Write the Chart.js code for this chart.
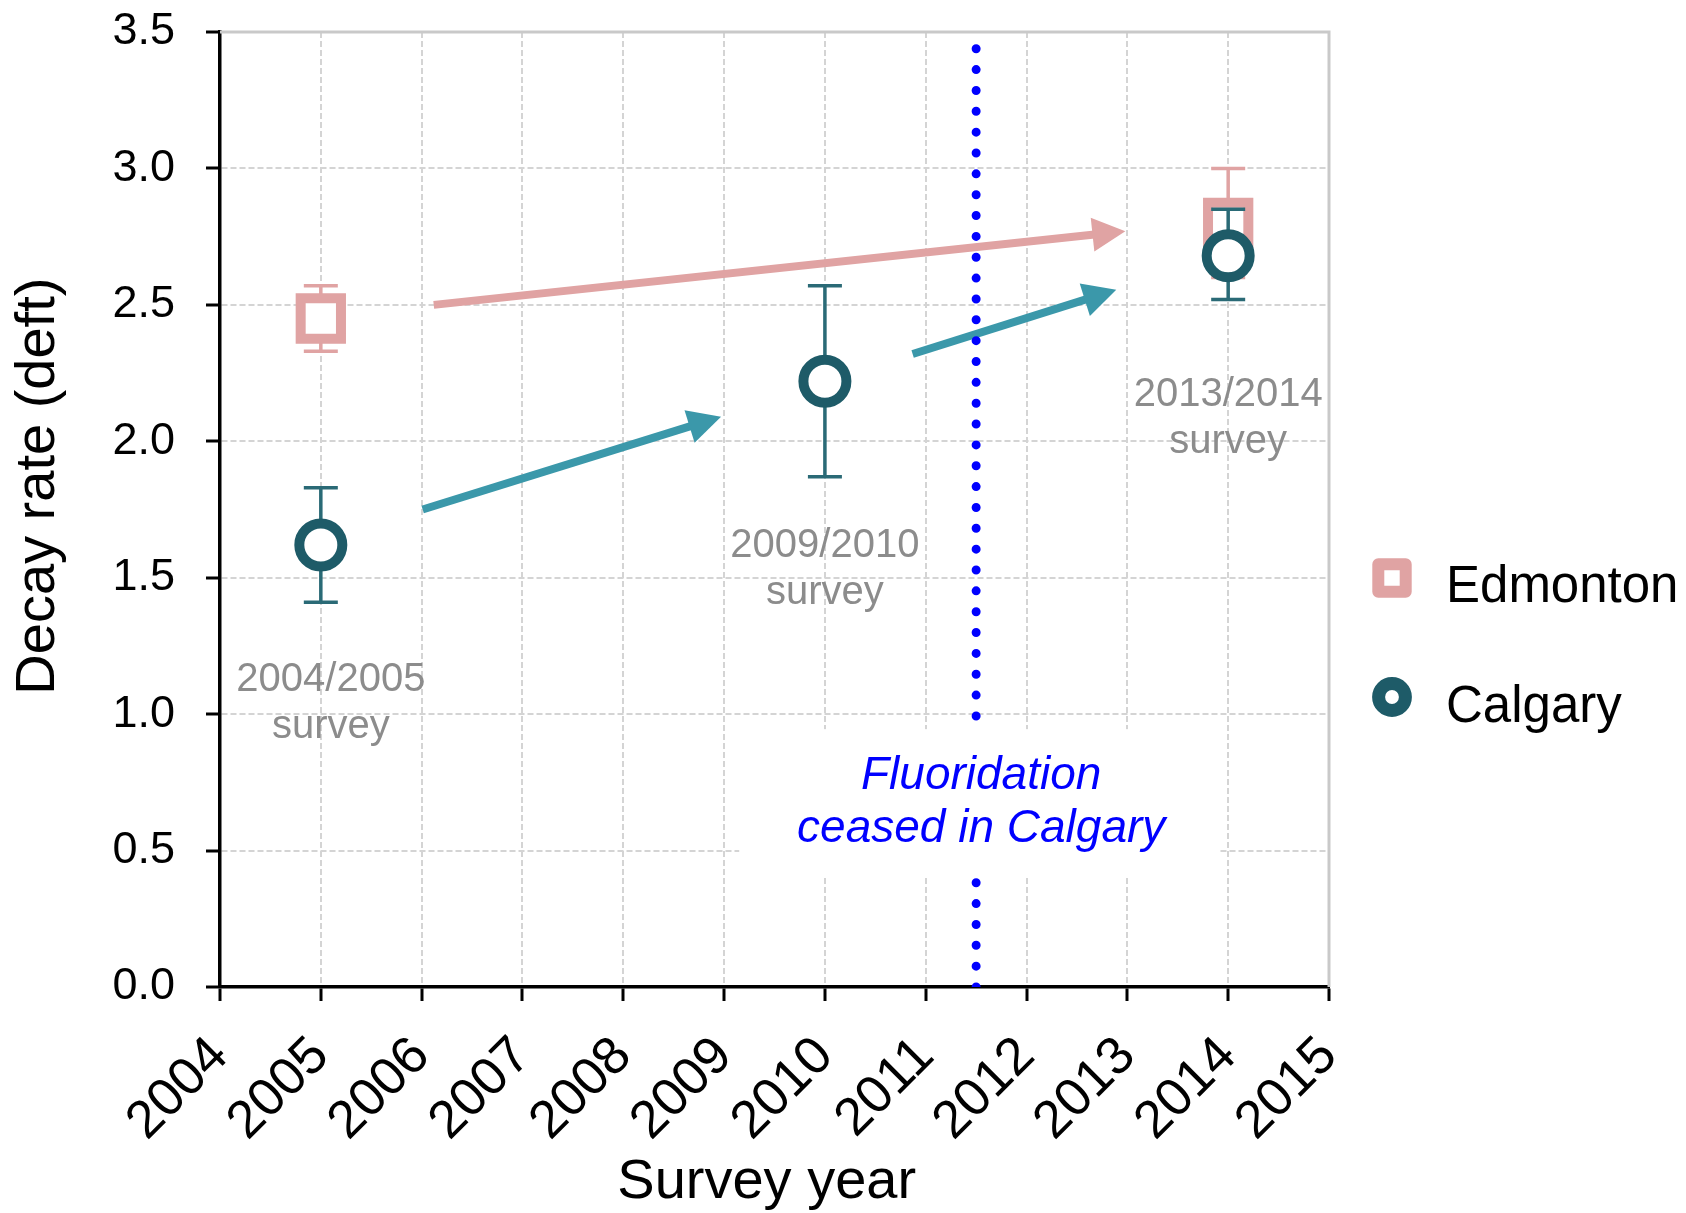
<!DOCTYPE html>
<html>
<head>
<meta charset="utf-8">
<title>Decay rate (deft) by survey year</title>
<script src="https://cdn.jsdelivr.net/npm/chart.js@4.4.0/dist/chart.umd.min.js"></script>
<style>
  html, body { margin: 0; padding: 0; background: #fff; }
  #wrap { width: 1686px; height: 1213px; }
</style>
</head>
<body>
<div id="wrap"><canvas id="chart" width="1686" height="1213"></canvas></div>
<script>
// values
const xTickLabels = ['2004', '2005', '2006', '2007', '2008', '2009', '2010', '2011', '2012', '2013', '2014', '2015'];
const yTickLabels = ['0.0', '0.5', '1.0', '1.5', '2.0', '2.5', '3.0', '3.5'];

const edmontonYears = [2005, 2014];
const edmontonDeft = [2.45, 2.80];
const edmontonLow = [2.33, 2.60];
const edmontonHigh = [2.57, 3.00];

const calgaryYears = [2005, 2010, 2014];
const calgaryDeft = [1.62, 2.22, 2.68];
const calgaryLow = [1.41, 1.87, 2.52];
const calgaryHigh = [1.83, 2.57, 2.85];

// fluoridation stopped mid 2011
const ceaseYear = 2011.5;
const ceaseSpan = [0, 3.45];

// arrows: [x0, y0, x1, y1] in data units
const edmontonArrow = [2006.12, 2.50, 2012.98, 2.77];
const calgaryArrows = [
    [2006.01, 1.75, 2008.97, 2.09],
    [2010.87, 2.32, 2012.89, 2.555]
];

const surveyLabels = ['2004/2005', '2009/2010', '2013/2014'];
const surveyLabelX = [2005.1, 2010, 2014];
const surveyLabelY = [1.125, 1.617, 2.17];

const noteLines = ['Fluoridation', 'ceased in Calgary'];
const noteX = 2011.55;
const noteY = [0.773, 0.579];
const noteBox = [2009.15, 0.40, 2013.9, 0.945];

const FONT = '"Liberation Sans", Arial, sans-serif';
const PINK = '#E0A3A3';
const TEAL_DARK = '#1E5B68';
const TEAL_BAR = '#2A6A76';
const TEAL_ARROW = '#3B98AA';
const BLUE = '#0000FF';

Chart.defaults.font.family = FONT;
Chart.defaults.color = '#000';

const errorBars = {
    Edmonton: { years: edmontonYears, low: edmontonLow, high: edmontonHigh, color: PINK },
    Calgary: { years: calgaryYears, low: calgaryLow, high: calgaryHigh, color: TEAL_BAR }
};

function drawArrow(chart, a, color) {
    const ctx = chart.ctx;
    const sx = chart.scales.x, sy = chart.scales.y;
    const x0 = sx.getPixelForValue(a[0]), y0 = sy.getPixelForValue(a[1]);
    const x1 = sx.getPixelForValue(a[2]), y1 = sy.getPixelForValue(a[3]);
    const len = Math.hypot(x1 - x0, y1 - y0);
    const ux = (x1 - x0) / len, uy = (y1 - y0) / len;
    const head = 33, half = 17;
    const bx = x1 - ux * head, by = y1 - uy * head;
    ctx.save();
    ctx.strokeStyle = color;
    ctx.fillStyle = color;
    ctx.lineWidth = 8;
    ctx.beginPath();
    ctx.moveTo(x0, y0);
    ctx.lineTo(bx + ux * 2, by + uy * 2);
    ctx.stroke();
    ctx.beginPath();
    ctx.moveTo(x1, y1);
    ctx.lineTo(bx - uy * half, by + ux * half);
    ctx.lineTo(bx + uy * half, by - ux * half);
    ctx.closePath();
    ctx.fill();
    ctx.restore();
}

const overlayPlugin = {
    id: 'overlay',
    beforeDatasetsDraw(chart) {
        const ctx = chart.ctx;
        const a = chart.chartArea;
        // light frame on top and right
        ctx.save();
        ctx.strokeStyle = '#c9c9c9';
        ctx.lineWidth = 3;
        ctx.beginPath();
        ctx.moveTo(a.left, a.top);
        ctx.lineTo(a.right, a.top);
        ctx.lineTo(a.right, a.bottom);
        ctx.stroke();
        ctx.restore();

        drawArrow(chart, edmontonArrow, PINK);
        calgaryArrows.forEach(arr => drawArrow(chart, arr, TEAL_ARROW));
    },
    beforeDatasetDraw(chart, args) {
        const ds = chart.data.datasets[args.index];
        const eb = errorBars[ds.label];
        if (!eb) return;
        const ctx = chart.ctx;
        const sx = chart.scales.x, sy = chart.scales.y;
        ctx.save();
        ctx.strokeStyle = eb.color;
        ctx.lineWidth = 3.5;
        eb.years.forEach((yr, i) => {
            const x = sx.getPixelForValue(yr);
            const yl = sy.getPixelForValue(eb.low[i]);
            const yh = sy.getPixelForValue(eb.high[i]);
            ctx.beginPath();
            ctx.moveTo(x, yl); ctx.lineTo(x, yh);
            ctx.moveTo(x - 17, yl); ctx.lineTo(x + 17, yl);
            ctx.moveTo(x - 17, yh); ctx.lineTo(x + 17, yh);
            ctx.stroke();
        });
        ctx.restore();
    },
    afterDatasetsDraw(chart) {
        const ctx = chart.ctx;
        const sx = chart.scales.x, sy = chart.scales.y;
        ctx.save();

        // white box behind the note
        const bx0 = sx.getPixelForValue(noteBox[0]), by0 = sy.getPixelForValue(noteBox[3]);
        const bx1 = sx.getPixelForValue(noteBox[2]), by1 = sy.getPixelForValue(noteBox[1]);
        ctx.fillStyle = '#fff';
        ctx.fillRect(bx0, by0, bx1 - bx0, by1 - by0);

        ctx.textAlign = 'center';
        ctx.textBaseline = 'middle';
        ctx.fillStyle = BLUE;
        ctx.font = 'italic 46px ' + FONT;
        noteLines.forEach((t, i) => {
            ctx.fillText(t, sx.getPixelForValue(noteX), sy.getPixelForValue(noteY[i]));
        });

        // survey labels
        ctx.fillStyle = '#8C8C8C';
        ctx.font = '40px ' + FONT;
        surveyLabels.forEach((t, i) => {
            const x = sx.getPixelForValue(surveyLabelX[i]);
            const y = sy.getPixelForValue(surveyLabelY[i]);
            ctx.fillText(t, x, y);
            ctx.fillText('survey', x, y + 47);
        });

        // legend
        ctx.lineJoin = 'round';
        ctx.fillStyle = '#fff';
        ctx.strokeStyle = PINK;
        ctx.lineWidth = 12;
        ctx.beginPath();
        ctx.rect(1392 - 13.7, 578 - 13.7, 27.4, 27.4);
        ctx.fill();
        ctx.stroke();

        ctx.strokeStyle = TEAL_DARK;
        ctx.lineWidth = 13;
        ctx.beginPath();
        ctx.arc(1392, 697, 13.4, 0, Math.PI * 2);
        ctx.fill();
        ctx.stroke();

        ctx.fillStyle = '#000';
        ctx.font = '51px ' + FONT;
        ctx.textAlign = 'left';
        ctx.textBaseline = 'alphabetic';
        ctx.fillText('Edmonton', 1446, 602);
        ctx.fillText('Calgary', 1446, 722);

        ctx.restore();
    }
};

const ctx = document.getElementById('chart').getContext('2d');
const chart = new Chart(ctx, {
    type: 'scatter',
    data: {
        datasets: [
            {
                label: 'Calgary',
                order: 1,
                data: calgaryYears.map((yr, i) => ({ x: yr, y: calgaryDeft[i] })),
                pointStyle: 'circle',
                pointRadius: 21.5,
                pointHoverRadius: 21.5,
                pointBorderWidth: 10,
                pointHoverBorderWidth: 10,
                pointBorderColor: TEAL_DARK,
                pointBackgroundColor: '#fff'
            },
            {
                label: 'Edmonton',
                order: 2,
                data: edmontonYears.map((yr, i) => ({ x: yr, y: edmontonDeft[i] })),
                pointStyle: 'rect',
                pointRadius: 28.5,
                pointHoverRadius: 28.5,
                pointBorderWidth: 10,
                pointHoverBorderWidth: 10,
                pointBorderColor: PINK,
                pointBackgroundColor: '#fff'
            },
            {
                label: 'Fluoridation ceased',
                order: 3,
                type: 'line',
                data: ceaseSpan.map(v => ({ x: ceaseYear, y: v })),
                showLine: true,
                borderColor: BLUE,
                borderWidth: 9,
                borderDash: [0, 20.85],
                borderCapStyle: 'round',
                pointRadius: 0,
                fill: false
            }
        ]
    },
    options: {
        responsive: false,
        animation: false,
        events: [],
        layout: {
            autoPadding: false,
            padding: { left: 0, top: 32, right: 357, bottom: 0 }
        },
        plugins: {
            legend: { display: false },
            tooltip: { enabled: false }
        },
        scales: {
            x: {
                type: 'linear',
                min: 2004,
                max: 2015,
                afterFit(axis) { axis.height = 226; },
                afterBuildTicks(axis) {
                    axis.ticks = xTickLabels.map(t => ({ value: Number(t) }));
                },
                ticks: {
                    autoSkip: false,
                    minRotation: 45,
                    maxRotation: 45,
                    padding: 24,
                    color: '#000',
                    font: { size: 53 },
                    callback: (v, i) => xTickLabels[i]
                },
                grid: {
                    color: '#d4d4d4',
                    lineWidth: 2,
                    tickColor: '#000',
                    tickWidth: 3,
                    tickLength: 14,
                    tickBorderDash: []
                },
                border: { display: true, color: '#000', width: 3.5, dash: [6, 3] },
                title: {
                    display: true,
                    text: 'Survey year ',
                    color: '#000',
                    font: { size: 56, lineHeight: 1 },
                    padding: { top: 0, bottom: 2 }
                }
            },
            y: {
                min: 0,
                max: 3.5,
                afterFit(axis) {
                    axis.width = 220;
                    axis.paddingTop = 0;
                    axis.paddingBottom = 0;
                },
                afterBuildTicks(axis) {
                    axis.ticks = yTickLabels.map(t => ({ value: Number(t) }));
                },
                ticks: {
                    padding: 31,
                    color: '#000',
                    font: { size: 45 },
                    callback: (v, i) => yTickLabels[i]
                },
                grid: {
                    color: '#d4d4d4',
                    lineWidth: 2,
                    tickColor: '#000',
                    tickWidth: 3,
                    tickLength: 14,
                    tickBorderDash: []
                },
                border: { display: true, color: '#000', width: 3.5, dash: [6, 3] },
                title: {
                    display: true,
                    text: '   Decay rate (deft)',
                    color: '#000',
                    font: { size: 56, lineHeight: 1 },
                    padding: { top: 11, bottom: 0 }
                }
            }
        }
    },
    plugins: [overlayPlugin]
});
</script>
</body>
</html>
